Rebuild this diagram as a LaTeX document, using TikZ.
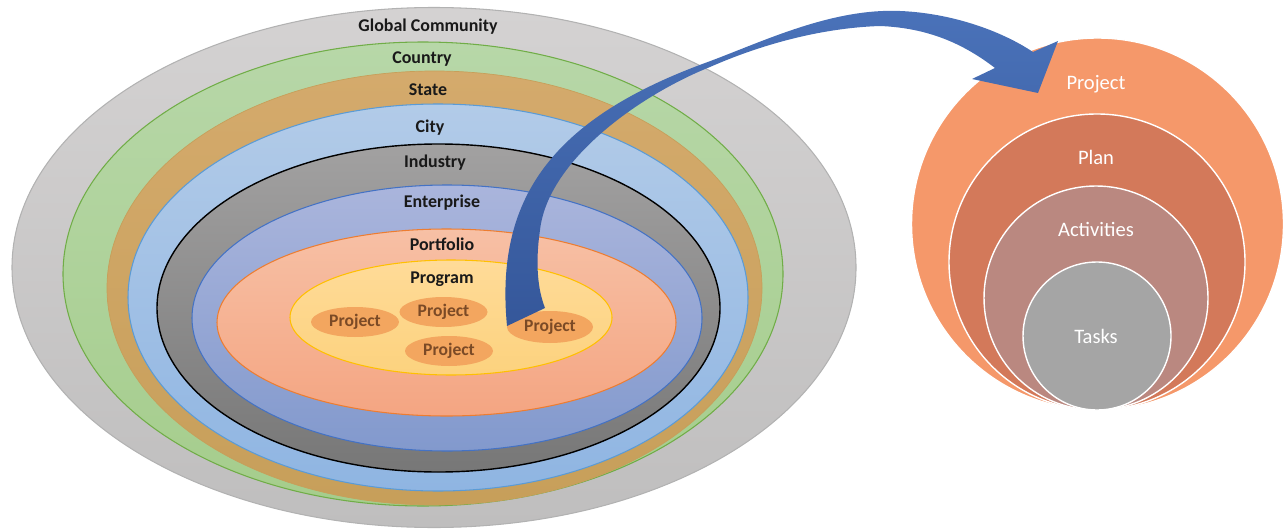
\documentclass[tikz,border=0pt]{standalone}
\usepackage{fontspec}
\setmainfont{Carlito}
\usetikzlibrary{shapes.geometric}
\definecolor{globtop}{HTML}{D4D2D2}
\definecolor{globbot}{HTML}{BFBEBE}
\definecolor{globline}{HTML}{B2B2B2}
\definecolor{ctrytop}{HTML}{B7D7A8}
\definecolor{ctrybot}{HTML}{A5CD8C}
\definecolor{ctryline}{HTML}{70AD47}
\definecolor{statetop}{HTML}{D4AA6C}
\definecolor{statebot}{HTML}{C79F5A}
\definecolor{citytop}{HTML}{B2CBE8}
\definecolor{citybot}{HTML}{8FB5E2}
\definecolor{cityline}{HTML}{5B9BD5}
\definecolor{indtop}{HTML}{A2A1A1}
\definecolor{indbot}{HTML}{777777}
\definecolor{enttop}{HTML}{AAB5DC}
\definecolor{entbot}{HTML}{8299CD}
\definecolor{entline}{HTML}{4472C4}
\definecolor{porttop}{HTML}{F7C0A5}
\definecolor{portbot}{HTML}{F4A582}
\definecolor{portline}{HTML}{ED7D31}
\definecolor{progtop}{HTML}{FFDB98}
\definecolor{progbot}{HTML}{FCD27E}
\definecolor{progline}{HTML}{FFC000}
\definecolor{projfill}{HTML}{F3A65F}
\definecolor{projtext}{HTML}{7B4A26}
\definecolor{bigproj}{HTML}{F5986A}
\definecolor{plancol}{HTML}{D3795A}
\definecolor{actcol}{HTML}{BA8880}
\definecolor{taskcol}{HTML}{A5A5A5}
\definecolor{arrtop}{HTML}{4A72B9}
\definecolor{arrbot}{HTML}{35579A}

\begin{document}
\begin{tikzpicture}[x=0.2mm, y=-0.2mm,
  layer/.style = {font=\fontsize{10.2}{12}\selectfont\bfseries, text=black!90},
  proj/.style = {ellipse, fill=projfill, minimum width=17.6mm, minimum height=6mm, inner sep=0pt,
    font=\fontsize{10}{12}\selectfont\bfseries, text=projtext},
  ring/.style = {draw=white, line width=.8pt},
  ringlabel/.style = {font=\fontsize{11.7}{14}\selectfont, text=white}]
\useasboundingbox (0,0) rectangle (1285,529);
\shade[top color = globtop, bottom color = globbot, draw = globline, line width = .6pt] (434,267.5) ellipse [x radius = 422, y radius = 260];
\shade[top color = ctrytop, bottom color = ctrybot, draw = ctryline, line width = .6pt] (423,274) ellipse [x radius = 360, y radius = 232];
\shade[top color = statetop, bottom color = statebot, draw = statebot, line width = .4pt] (434.5,288) ellipse [x radius = 327.5, y radius = 217];
\shade[top color = citytop, bottom color = citybot, draw = cityline, line width = .6pt] (438,297.5) ellipse [x radius = 310, y radius = 193.5];
\shade[top color = indtop, bottom color = indbot, draw = black, line width = .8pt] (438.5,308) ellipse [x radius = 281.5, y radius = 164];
\shade[top color = enttop, bottom color = entbot, draw = entline, line width = .6pt] (447,318) ellipse [x radius = 255, y radius = 133];
\shade[top color = porttop, bottom color = portbot, draw = portline, line width = .6pt] (446.5,322.5) ellipse [x radius = 229.5, y radius = 93.5];
\shade[top color = progtop, bottom color = progbot, draw = progline, line width = .6pt] (451,317.5) ellipse [x radius = 161, y radius = 57.5];
\node[layer] (global) at (428,27) {Global Community};
\node[layer] (country) at (422,59) {Country};
\node[layer] (state) at (428,90) {State};
\node[layer] (city) at (430,128) {City};
\node[layer] (industry) at (435,163) {Industry};
\node[layer] (enterprise) at (442,203) {Enterprise};
\node[layer] (portfolio) at (442,244) {Portfolio};
\node[layer] (program) at (442,279) {Program};
\node[proj] (projA) at (355,322) {Project};
\node[proj] (projB) at (443.5,312) {Project};
\node[proj] (projC) at (449,351) {Project};
\node[proj, minimum width=17.2mm, minimum height=6.4mm] (projD) at (550,327) {Project};
\filldraw[fill = bigproj, ring] (1097.5,224) circle [radius = 186];
\filldraw[fill = plancol, ring] (1097,262) circle [radius = 148];
\filldraw[fill = actcol, ring] (1096,298) circle [radius = 112];
\filldraw[fill = taskcol, ring] (1097,336) circle [radius = 74];
\node[ringlabel] (project) at (1096,84) {Project};
\node[ringlabel] (plan) at (1096,157) {Plan};
\node[ringlabel] (activities) at (1096,229) {Activities};
\node[ringlabel] (tasks) at (1096,336) {Tasks};
\shade[top color = arrtop, bottom color = arrbot] (507,326) .. controls (495,200) and (550,120) .. (705,63) .. controls (760,43) and (830,8) .. (900,11) .. controls (950,13) and (1000,30) .. (1033,52) - - (1058,41) - - (1038,93) - - (972,79) - - (995,68) .. controls (965,45) and (930,28) .. (880,26) .. controls (820,28) and (760,45) .. (710,67) .. controls (640,95) and (548,160) .. (540,230) .. controls (535,265) and (538,290) .. (545,308) - - cycle;
\end{tikzpicture}
\end{document}
